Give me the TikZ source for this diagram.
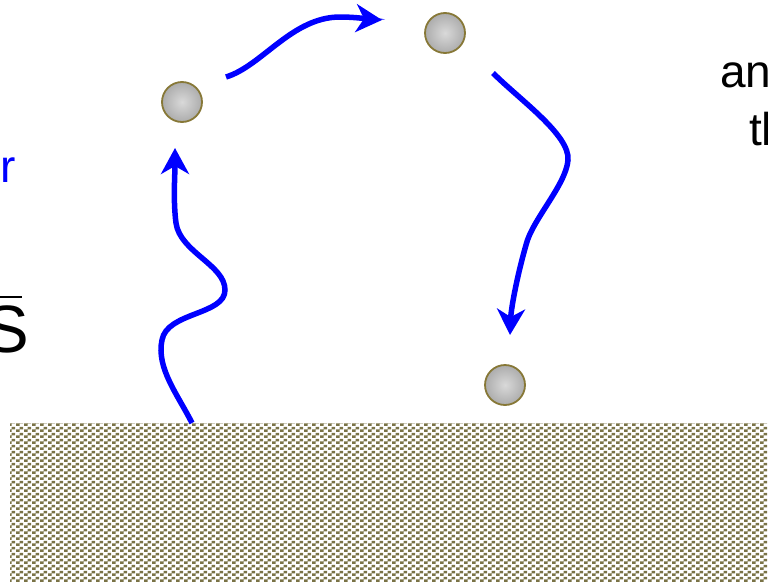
\documentclass[tikz,border=0pt]{standalone}
\usepackage{fontspec}
\setmainfont{Liberation Sans}
\usetikzlibrary{arrows.meta,patterns}
\definecolor{olivesq}{RGB}{122,115,70}
\definecolor{oliverim}{RGB}{135,120,55}
\definecolor{arrblue}{RGB}{0,0,255}
\pgfdeclarepatternformonly{groundsq}{\pgfpointorigin}{\pgfpoint{8pt}{6pt}}{\pgfpoint{8pt}{6pt}}{%
  \pgfpathrectangle{\pgfpoint{0pt}{0pt}}{\pgfpoint{4pt}{3pt}}%
  \pgfpathrectangle{\pgfpoint{4pt}{3pt}}{\pgfpoint{4pt}{3pt}}%
  \pgfusepath{fill}}
\tikzset{
  molecule/.style={circle, minimum size=40pt, inner sep=0pt, draw=oliverim, line width=1.8pt,
    shading=radial, inner color=gray!30, outer color=gray!65},
  groundbox/.style={rectangle, inner sep=0pt, pattern=groundsq, pattern color=olivesq},
  wavy/.style={draw=arrblue, line width=5.5pt,
    -{Stealth[length=26pt,width=28pt,inset=8pt]}},
  bigtxt/.style={inner sep=0pt, font=\fontsize{46}{55}\selectfont}
}
\begin{document}
\begin{tikzpicture}[x=1pt,y=-1pt]
\useasboundingbox (0,0) rectangle (768,581);
\node[groundbox, minimum width=758pt, minimum height=158pt, anchor=north west] (ground) at (10,423) {};
\node[molecule] (m1) at (182,102) {};
\node[molecule] (m2) at (445,33) {};
\node[molecule] (m3) at (505,385) {};
% arrow endpoints
\coordinate (a1s) at (192,423);
\coordinate (a1e) at (175,148);
\coordinate (a2s) at (226,77);
\coordinate (a2e) at (382,20);
\coordinate (a3s) at (493,73);
\coordinate (a3e) at (510,335);
\draw[wavy] (a1s) .. controls (178,395) and (156,368) .. (162,340)
  .. controls (167,312) and (225,315) .. (225,290)
  .. controls (225,265) and (180,252) .. (176,223)
  .. controls (173,200) and (175,175) .. (a1e);
\draw[wavy] (a2s) .. controls (262,66) and (292,17) .. (340,17)
  .. controls (355,17) and (368,19) .. (a2e);
\draw[wavy] (a3s) .. controls (520,100) and (570,135) .. (568,160)
  .. controls (566,185) and (532,220) .. (526,245)
  .. controls (516,280) and (511,310) .. (a3e);
% texts
\node[bigtxt, text=arrblue, anchor=base east] (tr) at (16,182) {r};
\node[inner sep=0pt, font=\fontsize{67}{80}\selectfont, anchor=base east] (ts) at (29,352) {S};
\draw[line width=1.5pt] (0,297) -- (22,297);
\node[bigtxt, anchor=base west] (tan) at (720,87) {an};
\node[bigtxt, anchor=base west] (tth) at (749,145) {th};
\end{tikzpicture}
\end{document}
